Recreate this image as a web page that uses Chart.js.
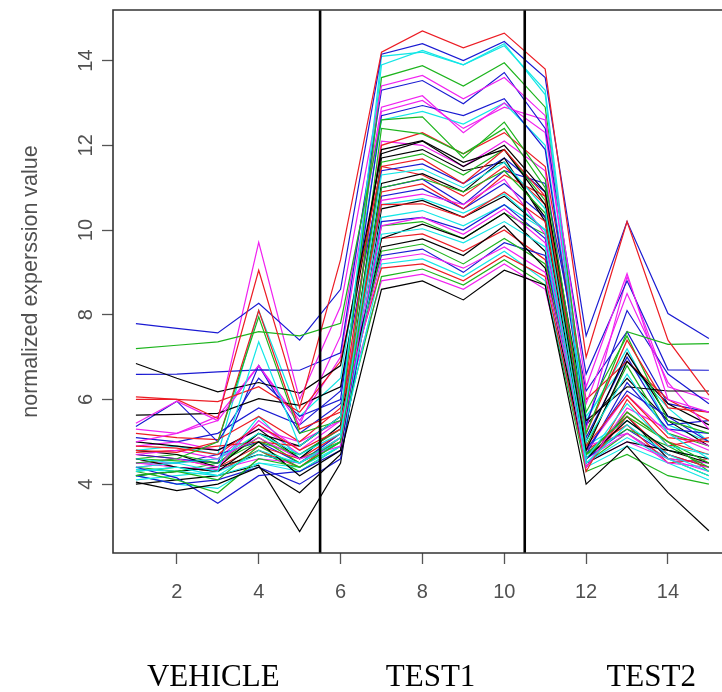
<!DOCTYPE html>
<html>
<head>
<meta charset="utf-8">
<script src="https://cdn.jsdelivr.net/npm/chart.js@4"></script>
<style>
html,body{margin:0;padding:0;background:#fff;overflow:hidden}
#wrap{width:722px;height:692px}
</style>
</head>
<body>
<div id="wrap"><canvas id="c" width="722" height="692"></canvas></div>
<script>
// ---- data ----
const samples = [1,2,3,4,5,6,7,8,9,10,11,12,13,14,15];
const xTicks = [2,4,6,8,10,12,14];
const yTicks = [4,6,8,10,12,14];
const groupLabels = ['VEHICLE','TEST1','TEST2'];
const groupLabelPositions = [2.89, 8.2, 13.59];
const groupBoundaries = [5.5, 10.5];
const xRange = [0.44, 15.32];
const yRange = [2.375, 15.195];
const yTitle = 'normalized experssion value';
const palette = ['#000000','#ec1c24','#1db41d','#1a1ad2','#12e6e6','#f022f0'];

const s01 = [4.05,3.85,4.0,4.4,3.8,4.7,8.6,8.8,8.35,9.05,8.7,4.0,4.9,3.8,2.9];
const s02 = [6.0,6.0,5.55,9.05,5.8,9.3,14.2,14.7,14.3,14.65,13.8,7.0,10.2,7.4,6.1];
const s03 = [7.2,7.28,7.36,7.6,7.5,7.8,12.6,12.67,11.7,12.55,11.2,5.2,7.6,7.3,7.32];
const s04 = [7.79,7.68,7.57,8.27,7.4,8.6,14.15,14.4,14.0,14.45,13.6,7.5,10.2,8.03,7.44];
const s05 = [4.6,4.5,4.3,7.36,4.9,5.6,14.1,14.2,13.9,14.4,13.2,5.0,6.6,5.2,4.6];
const s06 = [5.0,5.2,5.5,9.71,6.0,8.2,13.4,13.65,13.1,13.6,12.7,6.3,8.97,6.0,5.7];
const s07 = [6.85,6.5,6.18,6.4,6.15,6.8,11.8,12.1,11.5,12.0,10.9,5.5,6.3,6.2,6.2];
const s08 = [6.06,6.0,5.95,6.3,5.7,6.9,11.5,11.68,11.1,11.9,10.8,5.2,7.4,5.8,5.7];
const s09 = [4.5,4.6,5.0,7.95,5.2,5.5,13.6,13.88,13.4,13.95,12.9,5.7,7.5,5.5,5.2];
const s10 = [6.59,6.6,6.65,6.7,6.69,7.1,13.3,13.53,12.98,13.72,12.4,6.6,8.8,6.7,6.69];
const s11 = [4.3,4.4,4.2,4.8,4.5,5.1,11.3,11.44,11.0,11.6,10.5,4.6,5.9,4.9,4.7];
const s12 = [5.44,5.96,5.5,6.8,5.4,7.5,12.9,13.17,12.3,13.0,12.3,5.9,8.5,6.4,5.3];
const s13 = [5.63,5.65,5.67,6.02,5.86,6.3,11.9,12.11,11.6,11.9,10.6,4.8,6.9,5.9,5.4];
const s14 = [4.8,4.75,5.0,8.1,5.3,5.7,10.6,10.62,10.3,10.9,10.2,4.9,6.1,5.1,5.0];
const s15 = [4.3,4.1,3.79,4.6,4.4,5.0,11.0,11.21,10.9,11.4,10.4,4.7,5.6,5.0,4.5];
const s16 = [5.36,5.96,5.0,6.5,5.6,6.0,12.7,12.94,12.7,13.1,11.9,5.4,8.1,6.6,5.9];
const s17 = [4.4,4.5,4.6,5.2,4.7,5.2,10.6,10.74,10.4,10.85,10.0,4.5,5.4,4.7,4.3];
const s18 = [4.7,4.8,4.6,5.1,4.6,4.9,10.7,10.85,10.6,11.2,9.9,4.4,5.8,5.3,4.9];
const s19 = [4.6,4.4,4.3,5.0,4.2,4.8,11.1,11.33,10.9,11.7,10.2,4.6,5.5,4.8,4.6];
const s20 = [4.9,4.85,4.7,5.4,4.8,5.3,10.9,11.09,10.5,11.3,10.8,4.3,6.0,4.9,5.1];
const s21 = [4.2,4.3,4.1,4.9,4.4,5.0,12.4,12.27,11.8,12.4,11.0,4.7,5.3,4.9,4.4];
const s22 = [4.4,4.15,3.55,4.2,4.3,4.8,10.8,10.97,10.5,11.1,10.3,4.8,6.2,5.6,5.0];
const s23 = [4.1,4.2,4.3,4.7,4.5,5.0,9.9,10.03,9.7,10.2,9.6,4.5,5.1,4.6,4.2];
const s24 = [4.5,4.6,4.4,5.5,4.8,5.5,9.3,9.44,9.1,9.6,9.0,4.9,5.2,4.5,4.4];
const s25 = [4.8,4.7,4.4,5.2,4.9,5.6,9.6,9.79,9.4,10.1,9.1,4.5,5.0,4.8,4.5];
const s26 = [5.2,5.1,5.05,5.6,5.0,5.8,9.1,9.2,8.8,9.4,8.9,4.4,5.6,4.7,4.4];
const s27 = [4.6,4.55,4.5,5.0,4.7,5.3,9.5,9.67,9.2,9.8,9.2,4.6,5.7,5.0,4.3];
const s28 = [4.7,4.6,4.5,6.8,5.2,5.9,9.4,9.55,9.0,9.7,9.4,4.7,6.4,5.3,5.2];
const s29 = [4.35,4.3,4.2,4.5,4.3,4.9,9.2,9.32,8.9,9.5,8.8,4.4,4.9,4.5,4.1];
const s30 = [4.5,4.4,4.35,4.6,4.5,5.1,10.1,10.3,9.9,10.5,9.7,4.5,5.0,4.6,4.5];
const s31 = [5.0,4.9,4.8,5.3,4.6,5.4,9.8,10.14,9.8,10.4,9.5,5.0,7.1,5.6,5.3];
const s32 = [4.7,4.6,4.4,4.9,4.6,5.2,9.8,9.91,9.5,10.0,9.3,4.8,5.4,4.5,4.6];
const s33 = [4.4,4.3,4.5,5.1,4.5,5.1,8.9,9.08,8.7,9.3,8.7,4.3,4.7,4.2,4.0];
const s34 = [4.2,4.0,4.1,4.4,4.0,4.6,10.2,10.3,10.0,10.6,9.8,4.6,5.3,4.7,4.4];
const s35 = [4.2,4.0,3.9,4.5,4.4,4.9,10.3,10.46,10.1,10.6,10.0,4.9,5.5,4.8,4.6];
const s36 = [4.9,5.0,4.8,5.3,5.0,5.5,8.8,8.96,8.6,9.2,8.6,4.6,5.2,4.6,4.3];
const s37 = [4.0,4.1,4.2,4.45,2.88,4.5,10.5,10.7,10.3,10.8,10.0,4.7,5.6,4.6,4.5];
const s38 = [4.75,4.8,4.9,5.0,4.9,5.6,12.0,12.3,11.8,12.3,11.5,6.0,6.9,6.0,5.5];
const s39 = [4.6,4.7,4.5,5.2,4.6,5.0,11.6,11.8,11.3,11.9,10.7,4.9,6.8,5.2,4.9];
const s40 = [5.1,5.0,5.2,5.8,5.4,6.2,11.4,11.56,11.1,11.7,10.9,5.1,7.0,5.4,5.5];
const s41 = [4.8,4.9,4.7,8.1,5.6,6.5,12.6,12.8,12.5,13.0,12.0,5.6,6.9,5.8,5.0];
const s42 = [5.3,5.2,5.6,6.8,5.5,7.0,12.8,13.06,12.4,12.9,12.6,5.3,8.9,6.3,6.0];
const s43 = [4.2,4.3,4.4,4.7,4.5,5.0,11.7,11.9,11.4,11.6,10.3,5.4,6.5,5.5,4.9];
const s44 = [4.6,4.4,4.3,4.8,4.4,5.1,11.5,11.3,10.8,11.5,10.6,4.4,5.7,5.0,4.7];
const s45 = [4.3,4.4,4.3,4.8,4.3,4.9,10.1,10.2,9.8,10.4,9.9,4.5,5.2,4.6,4.2];
const s46 = [4.5,4.5,4.7,5.0,4.5,5.2,11.0,11.2,10.6,11.4,11.1,6.2,7.6,5.9,5.7];
const s47 = [4.2,4.3,4.4,5.6,4.6,5.4,13.9,14.24,13.9,14.35,13.3,5.5,7.2,5.4,5.0];
const s48 = [4.4,4.5,4.6,5.4,4.7,5.3,12.1,12.0,11.5,12.1,11.4,4.8,6.1,5.2,4.8];

const seriesList = [s01,s02,s03,s04,s05,s06,s07,s08,s09,s10,s11,s12,s13,s14,s15,s16,
  s17,s18,s19,s20,s21,s22,s23,s24,s25,s26,s27,s28,s29,s30,s31,s32,
  s33,s34,s35,s36,s37,s38,s39,s40,s41,s42,s43,s44,s45,s46,s47,s48];

// ---- chart ----
const sans = '"Liberation Sans", Arial, Helvetica, sans-serif';
const serif = '"Liberation Serif", "Times New Roman", serif';

const lineSets = seriesList.map((vals, i) => ({
  data: vals.map((v, j) => ({x: samples[j], y: v})),
  borderColor: palette[i % palette.length],
  borderWidth: 1.2,
  pointRadius: 0,
  fill: false,
  tension: 0,
  order: 1
}));
const boundarySets = groupBoundaries.map(b => ({
  data: [{x: b, y: yRange[0]}, {x: b, y: yRange[1]}],
  borderColor: '#000000',
  borderWidth: 2.6,
  pointRadius: 0,
  fill: false,
  order: 0
}));

const framePlugin = {
  id: 'frame',
  afterDatasetsDraw(chart) {
    const {ctx, chartArea: {left, top, right, bottom}} = chart;
    ctx.save();
    ctx.strokeStyle = '#333';
    ctx.lineWidth = 1.6;
    ctx.beginPath();
    ctx.moveTo(right + 3, top);
    ctx.lineTo(left, top);
    ctx.lineTo(left, bottom);
    ctx.lineTo(right + 3, bottom);
    ctx.stroke();
    ctx.restore();
  }
};

const tickGrid = {display: true, drawOnChartArea: false, drawTicks: true, tickLength: 11, tickColor: '#555', tickWidth: 1.3};

new Chart(document.getElementById('c'), {
  type: 'line',
  data: {datasets: [...boundarySets, ...lineSets]},
  plugins: [framePlugin],
  options: {
    animation: false,
    responsive: false,
    devicePixelRatio: 1,
    events: [],
    layout: {padding: {top: 10, left: 0, right: 0, bottom: 0}},
    plugins: {legend: {display: false}, tooltip: {enabled: false}},
    scales: {
      x: {
        type: 'linear', position: 'bottom', weight: 0,
        min: xRange[0], max: xRange[1], bounds: 'data',
        afterBuildTicks: s => { s.ticks = xTicks.map(v => ({value: v})); },
        afterFit: s => { s.height = 60; s.paddingLeft = 0; s.paddingRight = 0; },
        grid: tickGrid,
        border: {display: false},
        ticks: {font: {family: sans, size: 20}, color: '#505050', padding: 16,
                minRotation: 0, maxRotation: 0, autoSkip: false, callback: v => String(v)}
      },
      x2: {
        type: 'linear', position: 'bottom', weight: 1,
        min: xRange[0], max: xRange[1], bounds: 'data',
        afterBuildTicks: s => { s.ticks = groupLabelPositions.map(v => ({value: v})); },
        afterFit: s => { s.height = 79; s.paddingLeft = 0; s.paddingRight = 0; },
        grid: {display: false, drawTicks: false},
        border: {display: false},
        ticks: {font: {family: serif, size: 31}, color: '#000', padding: 46,
                minRotation: 0, maxRotation: 0, autoSkip: false,
                callback: (v, i) => groupLabels[i]}
      },
      y: {
        type: 'linear', position: 'left',
        min: yRange[0], max: yRange[1], bounds: 'data',
        afterBuildTicks: s => { s.ticks = yTicks.map(v => ({value: v})); },
        afterFit: s => { s.width = 113; s.paddingTop = 0; s.paddingBottom = 0; },
        grid: tickGrid,
        border: {display: false},
        ticks: {font: {family: sans, size: 20}, color: '#505050', padding: 4,
                minRotation: 90, maxRotation: 90, crossAlign: 'center', autoSkip: false,
                callback: v => String(v)},
        title: {display: true, text: yTitle, font: {family: sans, size: 21.5}, color: '#505050',
                padding: {top: 18, bottom: 0}}
      }
    }
  }
});
</script>
</body>
</html>
